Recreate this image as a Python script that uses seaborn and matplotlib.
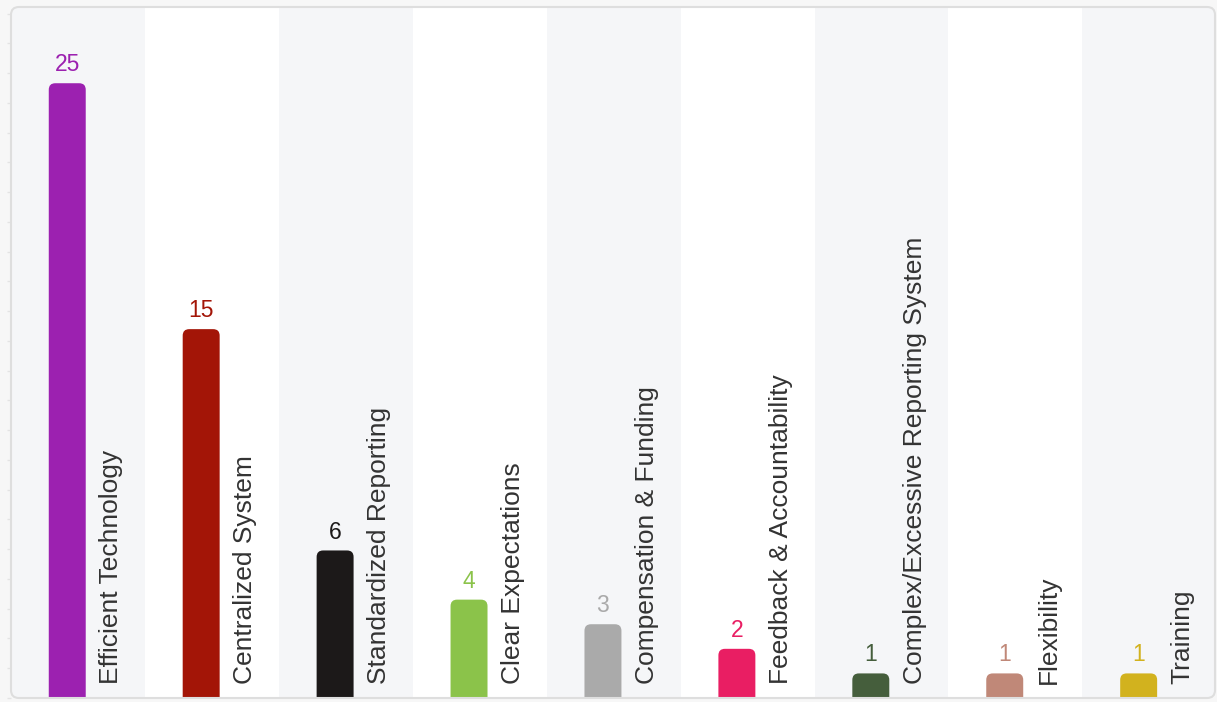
import matplotlib
matplotlib.use("Agg")
import matplotlib.pyplot as plt
import seaborn as sns
from matplotlib.patches import FancyBboxPatch
from matplotlib.ticker import MultipleLocator

# Datos del gráfico
categorias = [
    "Efficient Technology",
    "Centralized System",
    "Standardized Reporting",
    "Clear Expectations",
    "Compensation & Funding",
    "Feedback & Accountability",
    "Complex/Excessive Reporting System",
    "Flexibility",
    "Training",
]
valores = [25, 15, 6, 4, 3, 2, 1, 1, 1]
colores = [
    "#9c21b0", "#a31507", "#1c1919", "#8bc34a", "#aaaaaa",
    "#e91e63", "#455e3c", "#c08878", "#d2b21e",
]

sns.set_style("white")
plt.rcParams["font.family"] = ["Liberation Sans", "DejaVu Sans"]

W, H = 1217, 702
fig = plt.figure(figsize=(W / 100, H / 100), dpi=100, facecolor="#f7f7f7")

# Marco redondeado
x0, y0, x1, y1 = 11, 4, 1215, 695
asp_fig = W / H
fondo = FancyBboxPatch(
    (x0 / W, y0 / H), (x1 - x0) / W, (y1 - y0) / H,
    boxstyle="round,pad=0,rounding_size=0.0065", mutation_aspect=asp_fig,
    transform=fig.transFigure, facecolor="white", edgecolor="none", zorder=-1,
)
fig.add_artist(fondo)
borde = FancyBboxPatch(
    (x0 / W, y0 / H), (x1 - x0) / W, (y1 - y0) / H,
    boxstyle="round,pad=0,rounding_size=0.0065", mutation_aspect=asp_fig,
    transform=fig.transFigure, facecolor="none", edgecolor="#dedede",
    linewidth=1.5, zorder=10,
)
fig.add_artist(borde)

ax = fig.add_axes([x0 / W, y0 / H, (x1 - x0) / W, (y1 - y0) / H])
ax.set_facecolor("none")

sns.barplot(
    x=categorias, y=valores, hue=categorias, palette=colores,
    width=0.276, saturation=1, legend=False, ax=ax,
)

xmin, xmax = -0.42, 8.57
ymax = 28.1
ax.set_xlim(xmin, xmax)
ax.set_ylim(0, ymax)

# Barras con esquinas redondeadas
px_x = (x1 - x0) / (xmax - xmin)
px_y = (y1 - y0) / ymax
asp = px_x / px_y
radio = 6.5 / px_x
barras = list(ax.patches)
for p in barras:
    bx, bw, bh = p.get_x(), p.get_width(), p.get_height()
    fc = p.get_facecolor()
    p.remove()
    ax.add_patch(FancyBboxPatch(
        (bx, -1), bw, bh + 1,
        boxstyle=f"round,pad=0,rounding_size={radio}", mutation_aspect=asp,
        facecolor=fc, edgecolor="none", zorder=2,
    ))

# Bandas alternas de fondo
for i in range(len(categorias)):
    banda = ax.axvspan(i - 0.42, i + 0.58,
                       color="#f5f6f8" if i % 2 == 0 else "white",
                       zorder=0, lw=0)
    banda.set_clip_path(fondo)

# Etiquetas
for i, (cat, v, c) in enumerate(zip(categorias, valores, colores)):
    ax.annotate(str(v), xy=(i, v), xytext=(0, 5), textcoords="offset points",
                ha="center", va="bottom", fontsize=16.5, color=c)
    ax.annotate(cat, xy=(i, 0), xytext=(44 * 0.72, 14 * 0.72),
                textcoords="offset points", rotation=90, ha="center",
                va="bottom", fontsize=19, color="#333333")

ax.set_xticks([])
ax.yaxis.set_major_locator(MultipleLocator(1.21))
ax.set_yticklabels([])
ax.tick_params(axis="y", length=3, width=1, color="#e4e4e4", left=True)
for s in ax.spines.values():
    s.set_visible(False)
ax.set_xlabel("")
ax.set_ylabel("")

fig.savefig("out.png", dpi=100, facecolor=fig.get_facecolor())
